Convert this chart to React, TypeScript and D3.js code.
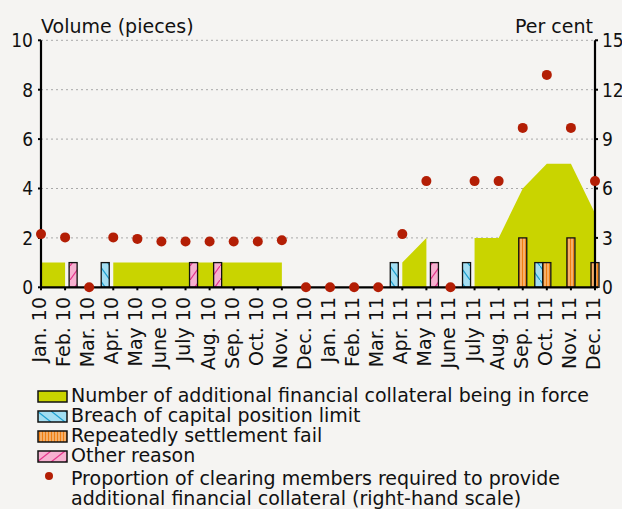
import React from "react";
import * as d3 from "d3";

const months = [
  "Jan. 10", "Feb. 10", "Mar. 10", "Apr. 10", "May 10", "June 10", "July 10", "Aug. 10",
  "Sep. 10", "Oct. 10", "Nov. 10", "Dec. 10", "Jan. 11", "Feb. 11", "Mar. 11", "Apr. 11",
  "May 11", "June 11", "July 11", "Aug. 11", "Sep. 11", "Oct. 11", "Nov. 11", "Dec. 11",
];
const collateralInForce: (number | null)[] = [
  1, 1, null, 1, 1, 1, 1, 1, 1, 1, 1, null, null, null, null, 1, 2, null, 2, 2, 4, 5, 5, 3,
];
const breachCapital = [0, 0, 0, 1, 0, 0, 0, 0, 0, 0, 0, 0, 0, 0, 0, 1, 0, 0, 1, 0, 0, 1, 0, 0];
const settlementFail = [0, 0, 0, 0, 0, 0, 0, 0, 0, 0, 0, 0, 0, 0, 0, 0, 0, 0, 0, 0, 2, 1, 2, 1];
const otherReason = [0, 1, 0, 0, 0, 0, 1, 1, 0, 0, 0, 0, 0, 0, 0, 0, 1, 0, 0, 0, 0, 0, 0, 0];
const proportionPct = [
  3.23, 3.03, 0, 3.03, 2.94, 2.78, 2.78, 2.78, 2.78, 2.78, 2.86, 0, 0, 0, 0, 3.23, 6.45, 0,
  6.45, 6.45, 9.68, 12.9, 9.68, 6.45,
];
const leftTicks = [0, 2, 4, 6, 8, 10];
const rightTicks = [0, 3, 6, 9, 12, 15];
const legendLabels = [
  "Number of additional financial collateral being in force",
  "Breach of capital position limit",
  "Repeatedly settlement fail",
  "Other reason",
];
const dotLegend = [
  "Proportion of clearing members required to provide",
  "additional financial collateral (right-hand scale)",
];

const W = 622;
const H = 509;
const FONT = "'DejaVu Sans', sans-serif";
const NUMFONT = "'DejaVu Sans Condensed', 'DejaVu Sans', sans-serif";
const GREEN = "#c9d400";
const RED = "#b31e05";

export default function App() {
  const left = 41, right = 595, top = 40.3, bottom = 287.3;
  const x = d3.scalePoint<string>().domain(months).range([left, right]);
  const yL = d3.scaleLinear().domain([0, 10]).range([bottom, top]);
  const yR = d3.scaleLinear().domain([0, 15]).range([bottom, top]);
  const step = x.step();
  const bw = step / 3;

  const areaGen = d3
    .area<number | null>()
    .defined((d) => d !== null)
    .x((_, i) => x(months[i]) as number)
    .y0(yL(0))
    .y1((d) => yL(d as number));

  const barSeries = [
    { vals: breachCapital, off: -1, fill: "url(#pBreach)" },
    { vals: settlementFail, off: 0, fill: "url(#pSettle)" },
    { vals: otherReason, off: 1, fill: "url(#pOther)" },
  ];

  const legendFills = [GREEN, "url(#pBreachL)", "url(#pSettle)", "url(#pOtherL)"];

  return (
    <svg width={W} height={H} style={{ display: "block", position: "absolute", left: 0, top: 0 }} fontFamily={FONT}>
      <defs>
        <pattern id="pBreach" patternUnits="userSpaceOnUse" width="10" height="14">
          <rect width="10" height="14" fill="#a3def2" />
          <line x1="0" y1="0" x2="10" y2="14" stroke="#1b9fd0" strokeWidth="1.2" />
        </pattern>
        <pattern id="pBreachL" patternUnits="userSpaceOnUse" width="14" height="11" x="37">
          <rect width="14" height="11" fill="#a3def2" />
          <line x1="0" y1="0" x2="14" y2="11" stroke="#1b9fd0" strokeWidth="1.2" />
        </pattern>
        <pattern id="pOther" patternUnits="userSpaceOnUse" width="10" height="14">
          <rect width="10" height="14" fill="#f6b0d0" />
          <line x1="0" y1="14" x2="10" y2="0" stroke="#e5338b" strokeWidth="1.2" />
        </pattern>
        <pattern id="pOtherL" patternUnits="userSpaceOnUse" width="14" height="11" x="37">
          <rect width="14" height="11" fill="#f6b0d0" />
          <line x1="0" y1="11" x2="14" y2="0" stroke="#e5338b" strokeWidth="1.2" />
        </pattern>
        <pattern id="pSettle" patternUnits="userSpaceOnUse" width="3" height="4">
          <rect width="3" height="4" fill="#f07f12" />
          <rect x="1.5" width="1" height="4" fill="#fde0bf" />
        </pattern>
      </defs>
      <rect width={W} height={H} fill="#f5f4f2" />

      {/* gridlines */}
      {leftTicks.filter((t) => t > 0).map((t) => (
        <line key={t} x1={left} x2={right} y1={yL(t)} y2={yL(t)} stroke="#a8a8a8" strokeWidth={1} strokeDasharray="2,3" />
      ))}

      {/* area */}
      <path d={areaGen(collateralInForce) || ""} fill={GREEN} />

      {/* bars */}
      {barSeries.map((s, si) =>
        s.vals.map((v, i) =>
          v > 0 ? (
            <rect
              key={si + "-" + i}
              x={(x(months[i]) as number) + s.off * bw - bw / 2}
              y={yL(v)}
              width={bw}
              height={yL(0) - yL(v)}
              fill={s.fill}
              stroke="#111"
              strokeWidth={1.3}
            />
          ) : null
        )
      )}

      {/* axes */}
      <line x1={left} x2={left} y1={top} y2={bottom} stroke="#000" strokeWidth={2.2} />
      <line x1={right} x2={right} y1={top} y2={bottom} stroke="#000" strokeWidth={2.2} />
      <line x1={left} x2={right} y1={bottom} y2={bottom} stroke="#000" strokeWidth={2.2} />
      {leftTicks.map((t) => (
        <g key={"l" + t}>
          <line x1={left - 3} x2={left} y1={yL(t)} y2={yL(t)} stroke="#000" strokeWidth={2} />
          <text x={33} y={yL(t)} dy="0.36em" textAnchor="end" fontSize={19} fontFamily={NUMFONT} fill="#111">{t}</text>
        </g>
      ))}
      {rightTicks.map((t) => (
        <g key={"r" + t}>
          <line x1={right} x2={right + 3} y1={yR(t)} y2={yR(t)} stroke="#000" strokeWidth={2} />
          <text x={602} y={yR(t)} dy="0.36em" textAnchor="start" fontSize={19} fontFamily={NUMFONT} fill="#111">{t}</text>
        </g>
      ))}
      {months.map((m) => (
        <g key={m}>
          <line x1={x(m)} x2={x(m)} y1={bottom} y2={bottom + 3} stroke="#000" strokeWidth={2} />
          <text
            transform={`translate(${(x(m) as number)},${297}) rotate(-90)`}
            dy="0.26em"
            textAnchor="end"
            fontSize={19}
            fill="#111"
          >
            {m}
          </text>
        </g>
      ))}
      <text x={41} y={33} fontSize={19} fill="#111">Volume (pieces)</text>
      <text x={593} y={33} fontSize={19} fill="#111" textAnchor="end">Per cent</text>

      {/* dots */}
      {proportionPct.map((v, i) => (
        <circle key={"d" + i} cx={x(months[i])} cy={yR(v)} r={5} fill={RED} />
      ))}

      {/* legend */}
      {legendLabels.map((l, i) => (
        <g key={l} transform={`translate(0,${402 + i * 20})`}>
          <rect x={38} y={-11} width={29} height={11} fill={legendFills[i]} stroke="#111" strokeWidth={1.5} />
          <text x={71} y={0} fontSize={19} fill="#111">{l}</text>
        </g>
      ))}
      <circle cx={49} cy={476} r={4} fill={RED} />
      {dotLegend.map((l, i) => (
        <text key={l} x={71} y={485 + i * 20} fontSize={19} fill="#111">{l}</text>
      ))}
    </svg>
  );
}
